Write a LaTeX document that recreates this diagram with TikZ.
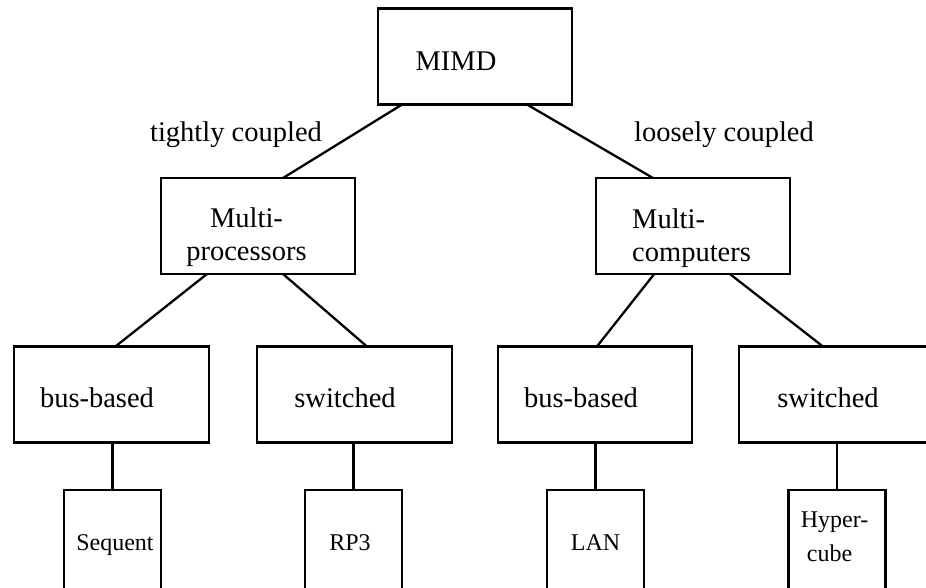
\documentclass[tikz,border=0pt]{standalone}
\usepackage{fontspec}
\setmainfont{Liberation Serif}
\usetikzlibrary{calc}
\begin{document}
\begin{tikzpicture}[x=1pt,y=-1pt,
  box/.style={draw, line width=2.6pt, rectangle, inner sep=0pt, outer sep=0pt,
              minimum width=194pt, minimum height=96pt},
  leaf/.style={draw, line width=2.6pt, rectangle, inner sep=0pt, outer sep=0pt,
               minimum width=97pt, minimum height=140pt},
  link/.style={line width=2.3pt},
  big/.style={font=\fontsize{28.5}{33}\selectfont, inner sep=0pt, anchor=base},
  small/.style={font=\fontsize{24}{30}\selectfont, inner sep=0pt, anchor=base}]

% canvas
\path[use as bounding box] (0,0) rectangle (926,587);
\fill[white] (0,0) rectangle (926,587);
\clip (0,0) rectangle (926,587);

% boxes
\node[box] (mimd) at (475,56.5) {};
\node[box] (mp)   at (258,226) {};
\node[box] (mc)   at (693,226) {};
\node[box, minimum width=195pt] (bbl) at (111.5,394.5) {};
\node[box, minimum width=195pt] (swl) at (354.5,394.5) {};
\node[box] (bbr) at (595,394.5) {};
\node[box] (swr) at (836,394.5) {};
\node[leaf] (seq) at (112.5,560) {};
\node[leaf] (rp)  at (353.5,560) {};
\node[leaf] (lan) at (595.5,560) {};
\node[leaf] (hyp) at (837,560) {};

% box texts
\node[big] (tmimd) at (456,70) {MIMD};
\node[big] (tmp1) at (246.5,227) {Multi-};
\node[big] (tmp2) at (246.5,260) {processors};
\node[big, anchor=base west] (tmc1) at (632,228) {Multi-};
\node[big, anchor=base west] (tmc2) at (632,261) {computers};
\node[big] (tbbl) at (97,407) {bus-based};
\node[big] (tswl) at (345,407) {switched};
\node[big] (tbbr) at (581,407) {bus-based};
\node[big] (tswr) at (828,407) {switched};
\node[small] (tseq) at (115,550) {Sequent};
\node[small] (trp)  at (350,550) {RP3};
\node[small] (tlan) at (595.5,550) {LAN};
\node[small] (thyp1) at (834.5,527) {Hyper-};
\node[small] (thyp2) at (829.5,561) {cube};

% edge labels
\node[big] (ltight) at (236,141) {tightly coupled};
\node[big] (lloose) at (724,141) {loosely coupled};

% connectors
\draw[link] ($(mimd.south west)!0.124!(mimd.south east)$) -- ($(mp.north west)!0.629!(mp.north east)$);
\draw[link] ($(mimd.south west)!0.768!(mimd.south east)$) -- ($(mc.north west)!0.294!(mc.north east)$);
\draw[link] ($(mp.south west)!0.237!(mp.south east)$) -- ($(bbl.north west)!0.52!(bbl.north east)$);
\draw[link] ($(mp.south west)!0.629!(mp.south east)$) -- ($(swl.north west)!0.564!(swl.north east)$);
\draw[link] ($(mc.south west)!0.30!(mc.south east)$) -- ($(bbr.north west)!0.51!(bbr.north east)$);
\draw[link] ($(mc.south west)!0.69!(mc.south east)$) -- ($(swr.north west)!0.433!(swr.north east)$);
\draw[link] (seq.north) -- (seq.north |- bbl.south);
\draw[link] (rp.north)  -- (rp.north |- swl.south);
\draw[link] (lan.north) -- (lan.north |- bbr.south);
\draw[link] (hyp.north) -- (hyp.north |- swr.south);
\end{tikzpicture}
\end{document}
